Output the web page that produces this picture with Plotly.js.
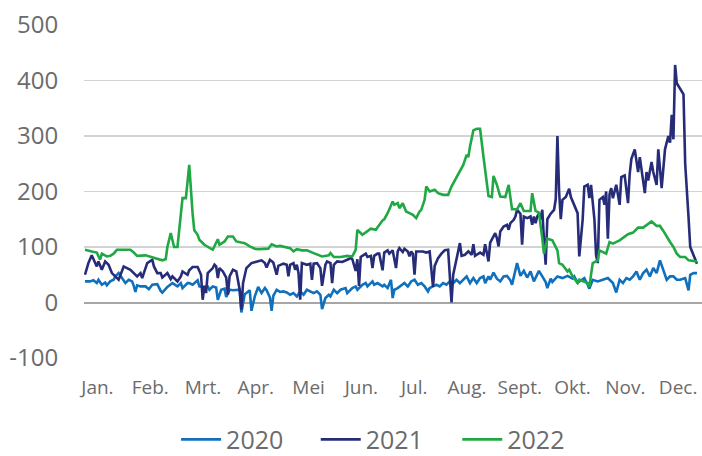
<!DOCTYPE html>
<html>
<head>
<meta charset="utf-8">
<script src="https://cdn.plot.ly/plotly-3.0.1.min.js"></script>
<style>html,body{margin:0;padding:0;background:#fff;}#chart{width:702px;height:456px;}</style>
</head>
<body>
<div id="chart"></div>
<script>
// Month labels and their positions (day of year) on the axis
const monthLabels = ['Jan.','Feb.','Mrt.','Apr.','Mei','Jun.','Jul.','Aug.','Sept.','Okt.','Nov.','Dec.'];
const tickDays = [8.4,39.8,71.2,102.6,134.0,165.4,196.8,228.2,259.6,291.0,322.4,353.8];
// Y axis tick values and labels
const yTickVals = [-100,0,100,200,300,400,500];
const yTickText = ['-100','0','100','200','300','400','500'];

// 2020
const days2020 = [
  1,4,6,8,9,11,13,14,16,18,
  19,21,23,25,27,29,30,31,32,34,
  37,39,41,44,46,47,50,52,53,56,
  58,59,62,63,65,68,69,71,74,75,
  77,79,80,82,84,85,87,89,91,93,
  94,96,97,99,100,102,104,106,108,109,
  111,112,113,115,117,119,121,123,125,127,
  129,131,133,135,137,139,141,142,144,146,
  147,149,151,153,156,157,160,162,163,166,
  168,169,172,173,175,178,179,181,183,184,
  185,187,190,191,193,195,197,199,201,203,
  205,206,208,210,212,214,216,218,220,222,
  224,226,228,230,232,234,236,238,239,241,
  242,244,246,248,250,252,254,255,258,260,
  262,264,266,268,271,273,275,276,278,279,
  282,285,288,291,292,294,297,298,300,301,
  303,306,309,312,315,317,319,321,323,325,
  327,329,331,333,335,337,339,341,343,345,
  347,349,351,353,355,358,360,361,363,365];
const vals2020 = [
  38,38,40,35,41,32,36,31,38,41,
  47,53,44,35,41,38,30,19,31,29,
  29,24,32,33,21,18,28,32,35,29,
  35,26,35,35,32,40,29,28,29,23,
  29,27,5,23,25,10,23,22,23,23,
  -18,15,17,22,-15,11,28,17,26,22,
  9,-15,12,23,19,20,18,14,17,11,
  20,14,23,20,17,20,14,-12,8,14,
  11,23,17,23,26,17,26,29,23,32,
  35,29,38,32,35,29,32,26,41,8,
  23,26,32,35,29,38,41,32,35,29,
  20,26,29,32,29,35,32,38,35,41,
  35,41,47,35,44,35,44,47,35,47,
  41,54,43,38,47,48,40,32,71,48,
  57,45,56,38,57,47,37,26,43,37,
  47,44,48,43,47,36,43,44,32,25,
  41,38,41,44,35,18,41,35,44,41,
  47,56,41,53,59,47,62,53,76,59,
  41,47,47,41,41,44,22,50,53,53];

// 2021
const days2021 = [
  1,3,5,8,9,11,13,15,17,19,
  21,24,26,28,30,32,34,35,38,41,
  42,44,46,47,50,52,53,56,58,59,
  62,63,65,68,70,71,72,73,74,77,
  78,79,80,81,83,85,86,87,89,91,
  93,94,95,97,100,103,106,108,109,111,
  113,115,116,119,121,122,123,125,126,127,
  128,129,130,133,135,136,137,139,141,142,
  144,145,147,148,149,151,154,157,159,160,
  162,163,164,165,168,169,171,172,173,175,
  176,178,179,181,182,184,186,187,188,190,
  191,193,194,195,196,197,198,202,204,206,
  207,208,209,211,213,215,217,218,219,220,
  222,224,225,227,229,231,232,233,236,238,
  239,241,242,243,245,246,247,248,250,252,
  253,254,256,257,258,260,261,262,264,266,
  267,268,269,270,271,272,273,274,275,276,
  278,280,281,282,283,284,285,287,289,290,
  293,294,295,297,298,300,301,302,304,305,
  306,307,309,310,311,312,313,314,315,317,
  319,320,322,323,324,325,326,328,330,331,
  333,334,335,336,338,339,341,342,344,346,
  348,349,350,351,352,353,357,358,360,361,
  365];
const vals2021 = [
  50,71,85,65,74,59,74,68,53,47,
  41,65,62,59,53,47,53,44,71,77,
  65,53,53,45,53,42,47,38,47,56,
  50,58,64,64,50,5,30,17,53,62,
  68,65,44,62,56,45,14,47,59,56,
  23,-13,35,62,71,74,76,71,63,77,
  72,50,66,70,68,47,68,71,59,68,
  53,5,71,68,70,41,70,71,62,30,
  68,74,71,35,68,74,73,77,80,78,
  57,78,30,82,88,82,84,62,84,88,
  88,58,90,94,88,94,62,92,98,91,
  97,92,83,92,88,50,92,92,90,92,
  54,28,66,80,88,94,95,40,0,50,
  80,107,84,86,92,86,105,84,90,86,
  105,74,108,113,125,116,101,128,137,140,
  131,143,149,155,167,160,104,155,152,155,
  140,155,143,155,160,150,167,113,68,150,
  160,167,186,300,200,150,185,190,205,190,
  170,161,83,149,209,212,188,212,150,85,
  71,185,190,176,200,115,195,206,188,212,
  176,226,229,200,179,232,259,276,235,262,
  223,197,235,220,253,235,212,276,206,276,
  300,288,338,294,428,395,375,250,153,100,
  70];

// 2022
const days2022 = [
  1,3,5,8,10,11,14,16,18,20,
  25,28,30,32,37,40,44,47,49,50,
  52,54,56,58,59,61,63,65,66,68,
  69,72,75,77,80,81,84,86,89,91,
  94,96,99,102,104,107,110,112,115,117,
  120,123,125,127,130,133,137,140,142,146,
  147,149,153,157,160,162,163,166,168,171,
  174,176,178,179,181,184,185,187,188,190,
  192,194,196,198,200,201,203,204,206,209,
  211,214,217,219,221,224,226,228,229,230,
  232,234,236,238,239,241,243,244,246,248,
  251,253,255,258,260,262,266,267,269,271,
  273,274,276,279,282,283,285,288,289,291,
  294,295,300,301,303,306,307,309,311,313,
  315,319,322,324,327,330,333,336,338,341,
  343,345,347,349,351,353,355,358,360,363,
  365];
const vals2022 = [
  95,93,92,90,77,88,83,84,88,95,
  95,95,90,84,85,82,78,76,78,100,
  125,100,100,160,188,188,248,160,130,122,
  113,104,98,95,114,104,110,119,119,110,
  108,107,101,97,96,96,97,105,101,102,
  100,98,92,96,94,94,89,86,83,85,
  89,82,82,84,83,95,131,122,127,133,
  131,140,148,150,161,182,176,179,170,179,
  164,161,158,152,164,167,185,209,200,203,
  197,194,194,209,221,236,248,266,262,281,
  310,313,313,263,239,192,190,228,212,191,
  190,212,168,168,179,165,165,197,165,162,
  115,88,115,112,94,71,68,56,59,47,
  35,41,35,29,71,76,94,91,88,109,
  106,112,118,123,126,135,135,141,146,138,
  138,129,118,109,100,88,82,82,76,75,
  74];

const seriesNames = ['2020','2021','2022'];
const seriesColors = ['#1070bd','#262c78','#20a845'];
const xs = [days2020, days2021, days2022];
const ys = [vals2020, vals2021, vals2022];
const legendIds = ['legend','legend2','legend3'];
const legendX = [0.149, 0.375, 0.604];

const traces = seriesNames.map((n, i) => ({
  type: 'scatter', mode: 'lines', name: n,
  x: xs[i], y: ys[i], legend: legendIds[i],
  line: {color: seriesColors[i], width: 2.6, shape: 'linear'},
  hoverinfo: 'skip'
}));

const layout = {
  width: 702, height: 456,
  margin: {l: 84, r: 0, t: 25, b: 98, pad: 0, autoexpand: false},
  paper_bgcolor: '#ffffff', plot_bgcolor: '#ffffff',
  font: {family: '"Open Sans", "Noto Sans", sans-serif', color: '#6b6b6b'},
  showlegend: true,
  xaxis: {
    range: [0.4, 368], tickmode: 'array', tickvals: tickDays, ticktext: monthLabels,
    showgrid: false, zeroline: false, showline: false,
    ticks: 'outside', ticklen: 12, tickcolor: 'rgba(0,0,0,0)',
    tickfont: {size: 19, color: '#6b6b6b'}, fixedrange: true, automargin: false
  },
  yaxis: {
    range: [-100, 500], tickmode: 'array', tickvals: yTickVals, ticktext: yTickText,
    showgrid: true, gridcolor: '#d3d3d3', gridwidth: 1.5,
    zeroline: true, zerolinecolor: '#a6a6a6', zerolinewidth: 2,
    showline: false,
    ticks: 'outside', ticklen: 20, tickcolor: 'rgba(0,0,0,0)',
    tickfont: {size: 24, color: '#6b6b6b'}, fixedrange: true, automargin: false
  }
};
legendIds.forEach((id, i) => {
  layout[id] = {
    orientation: 'h', xref: 'paper', x: legendX[i], xanchor: 'left',
    yref: 'container', y: 0.036, yanchor: 'middle',
    font: {size: 25, color: '#6b6b6b'},
    itemwidth: 40, bgcolor: 'rgba(0,0,0,0)'
  };
});

Plotly.newPlot('chart', traces, layout, {staticPlot: true, displayModeBar: false});
</script>
</body>
</html>
